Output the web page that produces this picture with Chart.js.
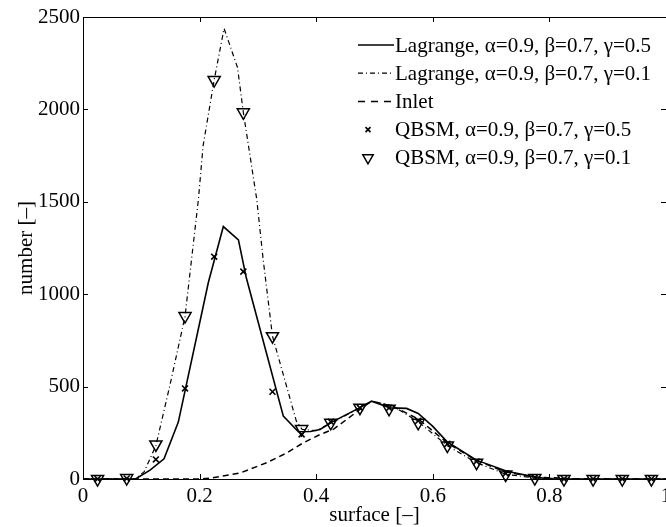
<!DOCTYPE html>
<html>
<head>
<meta charset="utf-8">
<script src="https://cdn.jsdelivr.net/npm/chart.js@4.4.1/dist/chart.umd.min.js"></script>
<style>
html,body{margin:0;padding:0;background:#fff;}
#wrap{width:666px;height:527px;}
</style>
</head>
<body>
<div id="wrap"><canvas id="c" width="666" height="527"></canvas></div>
<script>
// ---- data ----
const xTicks = [0, 0.2, 0.4, 0.6, 0.8, 1];
const yTicks = [0, 500, 1000, 1500, 2000, 2500];

const lag05X = [0, 0.09, 0.115, 0.139, 0.1635, 0.215, 0.2407, 0.2666, 0.28, 0.3436, 0.3694, 0.39, 0.4065, 0.43, 0.475, 0.495, 0.527, 0.555, 0.575, 0.6, 0.625, 0.675, 0.727, 0.776, 0.8, 1];
const lag05Y = [0, 0, 48, 109, 308, 1063, 1366, 1294, 1090, 340, 256, 257, 268, 313, 386, 421, 385, 382, 355, 285, 200, 102, 42, 10, 0, 0];

const lag01X = [0, 0.09, 0.105, 0.125, 0.15, 0.175, 0.198, 0.206, 0.225, 0.242, 0.265, 0.275, 0.298, 0.309, 0.325, 0.366, 0.376, 0.4, 0.43, 0.475, 0.495, 0.53, 0.575, 0.625, 0.675, 0.725, 0.775, 0.85, 1];
const lag01Y = [0, 0, 40, 180, 520, 880, 1514, 1803, 2159, 2438, 2227, 1984, 1514, 1189, 773, 313, 268, 262, 310, 385, 421, 398, 310, 180, 88, 26, 5, 0, 0];

const inletX = [0, 0.2, 0.22, 0.27, 0.315, 0.35, 0.378, 0.407, 0.43, 0.475, 0.495, 0.53, 0.575, 0.625, 0.675, 0.725, 0.775, 0.85, 1];
const inletY = [0, 0, 5, 33, 88, 142, 196, 241, 270, 376, 421, 395, 325, 195, 100, 38, 10, 1, 0];

const qbsmX   = [0.025, 0.075, 0.125, 0.175, 0.225, 0.275, 0.325, 0.375, 0.425, 0.475, 0.525, 0.575, 0.625, 0.675, 0.725, 0.775, 0.825, 0.875, 0.925, 0.975];
const qbsm05Y = [0, 3, 106, 490, 1203, 1122, 472, 241, 310, 385, 385, 315, 190, 95, 30, 8, 0, 0, 0, 0];
const qbsm01Y = [0, 5, 187, 882, 2159, 1984, 773, 270, 304, 386, 380, 304, 181, 88, 24, 5, 0, 0, 0, 0];

const labels = [
  'Lagrange, \u03B1=0.9, \u03B2=0.7, \u03B3=0.5',
  'Lagrange, \u03B1=0.9, \u03B2=0.7, \u03B3=0.1',
  'Inlet',
  'QBSM, \u03B1=0.9, \u03B2=0.7, \u03B3=0.5',
  'QBSM, \u03B1=0.9, \u03B2=0.7, \u03B3=0.1'
];

const pts = (xs, ys) => xs.map((x, i) => ({x: x, y: ys[i]}));
const FONT = "'Liberation Serif', 'Times New Roman', serif";

Chart.defaults.color = '#000';
Chart.defaults.font.family = FONT;

const framePlugin = {
  id: 'frame',
  afterDraw(chart) {
    const ctx = chart.ctx, a = chart.chartArea;
    const xs = chart.scales.x, ys = chart.scales.y;
    ctx.save();
    ctx.strokeStyle = '#000';
    ctx.lineWidth = 1;
    ctx.setLineDash([]);
    ctx.strokeRect(Math.round(a.left) + 0.5, Math.round(a.top) + 0.5, Math.round(a.right - a.left), Math.round(a.bottom - a.top));
    const L = 5;
    ctx.beginPath();
    xs.ticks.forEach(t => {
      const p = Math.round(xs.getPixelForValue(t.value)) + 0.5;
      ctx.moveTo(p, a.bottom); ctx.lineTo(p, a.bottom - L);
      ctx.moveTo(p, a.top); ctx.lineTo(p, a.top + L);
    });
    ys.ticks.forEach(t => {
      const p = Math.round(ys.getPixelForValue(t.value)) + 0.5;
      ctx.moveTo(a.left, p); ctx.lineTo(a.left + L, p);
      ctx.moveTo(a.right, p); ctx.lineTo(a.right - L, p);
    });
    ctx.stroke();

    // legend
    const x0 = 358, x1 = 394, tx = 395, ty0 = a.top + 28, dy = 28.2;
    ctx.font = '21px ' + FONT;
    ctx.textBaseline = 'middle';
    ctx.textAlign = 'left';
    chart.data.datasets.forEach((ds, i) => {
      const y = ty0 + i * dy;
      ctx.save();
      ctx.strokeStyle = '#000';
      ctx.fillStyle = ds.backgroundColor || 'rgba(0,0,0,0)';
      if (ds.showLine) {
        ctx.lineWidth = ds.borderWidth;
        ctx.setLineDash(ds.legendDash || ds.borderDash || []);
        ctx.beginPath();
        ctx.moveTo(x0, y); ctx.lineTo(x1, y);
        ctx.stroke();
      } else {
        ctx.setLineDash([]);
        ctx.lineWidth = ds.borderWidth;
        Chart.helpers.drawPoint(ctx, {
          pointStyle: ds.pointStyle, rotation: ds.rotation || 0,
          radius: ds.legendRadius, borderWidth: ds.borderWidth
        }, (x0 + x1) / 2 - 8, y);
      }
      ctx.restore();
      ctx.fillStyle = '#000';
      ctx.fillText(ds.label, tx, y + 1);
    });
    ctx.restore();
  }
};

new Chart(document.getElementById('c'), {
  type: 'scatter',
  data: {
    datasets: [
      { label: labels[0], data: pts(lag05X, lag05Y), showLine: true, borderColor: '#000', borderWidth: 1.6, pointRadius: 0, clip: false },
      { label: labels[1], data: pts(lag01X, lag01Y), showLine: true, borderColor: '#000', borderWidth: 1.2, borderDash: [5, 3, 1, 3], pointRadius: 0, clip: false },
      { label: labels[2], data: pts(inletX, inletY), showLine: true, borderColor: '#000', borderWidth: 1.5, borderDash: [6, 4], legendDash: [7, 6], pointRadius: 0, clip: false },
      { label: labels[3], data: pts(qbsmX, qbsm05Y), showLine: false, pointStyle: 'crossRot', pointRadius: 4.2, legendRadius: 3.5, borderColor: '#000', backgroundColor: '#000', borderWidth: 1.6, clip: false },
      { label: labels[4], data: pts(qbsmX, qbsm01Y), showLine: false, pointStyle: 'triangle', rotation: 180, pointRadius: 7, legendRadius: 6, borderColor: '#000', backgroundColor: 'rgba(0,0,0,0)', borderWidth: 1.5, clip: false }
    ]
  },
  options: {
    responsive: false,
    animation: false,
    events: [],
    layout: { autoPadding: false, padding: { top: 17, right: 0, left: 0, bottom: 0 } },
    plugins: { legend: { display: false }, tooltip: { enabled: false } },
    scales: {
      x: {
        type: 'linear', min: 0, max: 1,
        afterBuildTicks: s => { s.ticks = xTicks.map(v => ({value: v})); },
        afterFit: s => { s.height = 48; s.paddingLeft = 0; s.paddingRight = 0; },
        grid: { display: false, drawTicks: false },
        border: { display: false },
        ticks: { font: { size: 21 }, padding: 5, maxRotation: 0, autoSkip: false,
                  callback: v => String(Math.round(v * 10) / 10) },
        title: { display: true, text: 'surface [\u2013]', font: { size: 21 }, padding: { top: 0, bottom: -1 } }
      },
      y: {
        type: 'linear', min: 0, max: 2500,
        afterBuildTicks: s => { s.ticks = yTicks.map(v => ({value: v})); },
        afterFit: s => { s.width = 83; s.paddingTop = 0; s.paddingBottom = 0; },
        grid: { display: false, drawTicks: false },
        border: { display: false },
        ticks: { font: { size: 21 }, padding: 3, autoSkip: false, callback: v => String(v) },
        title: { display: true, text: 'number [\u2013]', font: { size: 21 }, padding: { top: 14, bottom: 0 } }
      }
    }
  },
  plugins: [framePlugin]
});
</script>
</body>
</html>
